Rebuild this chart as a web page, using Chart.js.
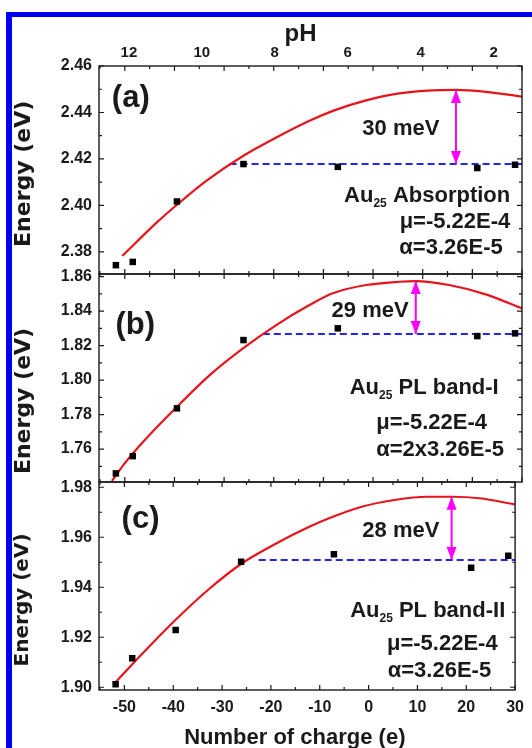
<!DOCTYPE html>
<html>
<head>
<meta charset="utf-8">
<script src="https://cdn.jsdelivr.net/npm/chart.js@4.4.0/dist/chart.umd.min.js"></script>
<style>
html,body{margin:0;padding:0;background:#fff;overflow:hidden;width:532px;height:748px;}
#frame{position:absolute;left:6px;top:12px;width:560px;height:760px;border-left:6px solid #0000f0;border-top:5px solid #0000f0;box-sizing:border-box;}
canvas{position:absolute;left:0;}
</style>
</head>
<body>
<div id="frame"></div>
<canvas id="ca" width="532" height="298" style="top:0px"></canvas>
<canvas id="cb" width="532" height="256" style="top:250px"></canvas>
<canvas id="cc" width="532" height="300" style="top:460px"></canvas>
<script>
// ---------- data ----------
const charge  = [-51.8, -48.4, -39.5, -26.1, -7.1, 21.0, 28.6];
const energyA = [2.3743, 2.3757, 2.4017, 2.4178, 2.4166, 2.4161, 2.4175];
const energyB = [1.7459, 1.7559, 1.7836, 1.8232, 1.8300, 1.8255, 1.8271];
const energyC = [1.9012, 1.9116, 1.9229, 1.9502, 1.9532, 1.9478, 1.9526];

const fitChargeA = [-50.5, -43.6, -39.5, -33.6, -26.1, -19.5, -12.8, -8.1, -1.4, 5.3, 13.3, 16.7, 22.7, 30];
const fitEnergyA = [2.3783, 2.3926, 2.4003, 2.4106, 2.4214, 2.4292, 2.4364, 2.4407, 2.4452, 2.4482, 2.4496, 2.4497, 2.4489, 2.4468];
const fitChargeB = [-52.6, -50.3, -46.3, -39.5, -32.9, -26.2, -19.5, -12.8, -8.1, -1.4, 5.3, 8.6, 15.3, 22.7, 30];
const fitEnergyB = [1.7415, 1.7507, 1.7642, 1.7845, 1.8029, 1.8184, 1.8319, 1.8435, 1.8503, 1.8551, 1.8570, 1.8574, 1.8551, 1.8497, 1.8415];
const fitChargeC = [-52.0, -46.3, -39.5, -32.9, -26.2, -19.5, -12.8, -8.1, -1.4, 5.3, 12.0, 17.0, 22.7, 30];
const fitEnergyC = [1.9016, 1.9135, 1.9270, 1.9389, 1.9492, 1.9569, 1.9636, 1.9676, 1.9722, 1.9749, 1.9762, 1.9762, 1.9756, 1.9731];

const plateauStart = [-28.9, -22.2, -22.5];
const plateauLevel = [2.4178, 1.8267, 1.9509];
const plateauEnd   = 30;
const arrowCharge  = [16.7, 8.6, 17.0];
const arrowTop     = [2.4497, 1.8574, 1.9762];

const xTicks  = [-50, -40, -30, -20, -10, 0, 10, 20, 30];
const phTicks = [12, 10, 8, 6, 4, 2];
const yTicksA = [2.38, 2.40, 2.42, 2.44, 2.46];
const yTicksB = [1.76, 1.78, 1.80, 1.82, 1.84, 1.86];
const yTicksC = [1.90, 1.92, 1.94, 1.96, 1.98];

const xRange  = [-55.2, 30];
const phRange = [1.22, 12.82];
const yRangeA = [2.3705, 2.46];
const yRangeB = [1.7409, 1.8615];
const yRangeC = [1.8989, 1.9821];

// ---------- text annotations (positions in data units) ----------
const notesA = [
  {parts:[{t:'(a)'}], x:-48.8, y:2.4462, size:31},
  {parts:[{t:'30 meV'}], x:5.6, y:2.4329, size:22},
  {parts:[{t:'Au'},{t:'25',sub:true},{t:' Absorption'}], x:10.9, y:2.4043, size:22},
  {parts:[{t:'μ=-5.22E-4'}], x:16.5, y:2.3930, size:22},
  {parts:[{t:'α=3.26E-5'}], x:15.7, y:2.3816, size:22}
];
const notesB = [
  {parts:[{t:'(b)'}], x:-47.9, y:1.8316, size:31},
  {parts:[{t:'29 meV'}], x:-0.6, y:1.8400, size:22},
  {parts:[{t:'Au'},{t:'25',sub:true},{t:' PL band-I'}], x:10.3, y:1.7954, size:22},
  {parts:[{t:'μ=-5.22E-4'}], x:11.8, y:1.7752, size:22},
  {parts:[{t:'α=2x3.26E-5'}], x:13.5, y:1.7597, size:22}
];
const notesC = [
  {parts:[{t:'(c)'}], x:-46.7, y:1.9671, size:31},
  {parts:[{t:'28 meV'}], x:6.6, y:1.9625, size:22},
  {parts:[{t:'Au'},{t:'25',sub:true},{t:' PL band-II'}], x:12.1, y:1.9307, size:22},
  {parts:[{t:'μ=-5.22E-4'}], x:15.1, y:1.9172, size:22},
  {parts:[{t:'α=3.26E-5'}], x:14.5, y:1.9066, size:22}
];

const FAM = '"Liberation Sans", Arial, Helvetica, sans-serif';
const INK = '#1a1a1a';
Chart.defaults.font.family = FAM;
Chart.defaults.font.weight = 'bold';
Chart.defaults.color = INK;

function minorList(major, step, lo, hi) {
  const out = [];
  major.forEach(v => { out.push(v - step / 2); });
  out.push(major[major.length - 1] + step / 2);
  return out.filter(v => v > lo + 1e-9 && v < hi - 1e-9);
}

const frameTicks = {
  id: 'frameTicks',
  afterDatasetsDraw(chart, args, o) {
    const {ctx, chartArea: a, scales} = chart;
    const xs = scales.x, ys = scales.y;
    ctx.save();
    ctx.strokeStyle = INK;
    ctx.lineWidth = 1.4;
    ctx.strokeRect(a.left, a.top, a.right - a.left, a.bottom - a.top);
    ctx.lineWidth = 1.2;
    ctx.beginPath();
    const xm = xTicks.filter(v => v >= xRange[0] && v <= xRange[1]);
    const xmin = minorList(xTicks, 10, xRange[0], xRange[1]);
    const xl = (v, len) => {
      const p = xs.getPixelForValue(v);
      ctx.moveTo(p, a.bottom); ctx.lineTo(p, a.bottom - len);
      ctx.moveTo(p, a.top); ctx.lineTo(p, a.top + len);
    };
    xm.forEach(v => xl(v, 5)); xmin.forEach(v => xl(v, 3));
    const step = o.yTicks[1] - o.yTicks[0];
    const ymin = minorList(o.yTicks, step, ys.min, ys.max);
    const yl = (v, len) => {
      const p = ys.getPixelForValue(v);
      ctx.moveTo(a.left, p); ctx.lineTo(a.left + len, p);
      ctx.moveTo(a.right, p); ctx.lineTo(a.right - len, p);
    };
    o.yTicks.forEach(v => yl(v, 5)); ymin.forEach(v => yl(v, 3));
    ctx.stroke();
    ctx.restore();
  }
};

const arrowHeads = {
  id: 'arrowHeads',
  afterDatasetsDraw(chart) {
    const idx = chart.data.datasets.findIndex(d => d.label === 'arrow');
    if (idx < 0) return;
    const pts = chart.getDatasetMeta(idx).data;
    const ctx = chart.ctx;
    const lo = pts[0], hi = pts[1];
    ctx.save();
    ctx.fillStyle = '#ff00ff';
    const head = (x, y, dir) => {
      ctx.beginPath();
      ctx.moveTo(x, y);
      ctx.lineTo(x - 5, y + dir * 13);
      ctx.lineTo(x + 5, y + dir * 13);
      ctx.closePath();
      ctx.fill();
    };
    head(hi.x, hi.y, 1);
    head(lo.x, lo.y, -1);
    ctx.restore();
  }
};

const notesPlugin = {
  id: 'notes',
  afterDraw(chart, args, o) {
    const {ctx, scales} = chart;
    ctx.save();
    ctx.fillStyle = INK;
    ctx.textBaseline = 'middle';
    ctx.textAlign = 'left';
    o.items.forEach(n => {
      const cx = scales.x.getPixelForValue(n.x);
      const cy = scales.y.getPixelForValue(n.y);
      const fontOf = p => 'bold ' + (p.sub ? Math.round(n.size * 0.55) : n.size) + 'px ' + FAM;
      let total = 0;
      const ws = n.parts.map(p => { ctx.font = fontOf(p); const w = ctx.measureText(p.t).width; total += w; return w; });
      let x = cx - total / 2;
      n.parts.forEach((p, i) => {
        ctx.font = fontOf(p);
        ctx.fillText(p.t, x, p.sub ? cy + n.size * 0.36 : cy);
        x += ws[i];
      });
    });
    ctx.restore();
  }
};

function makePanel(id, c) {
  const scales = {
    x: {
      type: 'linear', position: 'bottom', min: xRange[0], max: xRange[1], display: c.showX,
      afterBuildTicks: s => { s.ticks = xTicks.map(v => ({value: v})); },
      grid: {display: false, drawTicks: false}, border: {display: false},
      ticks: {font: {size: 16, weight: 'bold'}, padding: 8, autoSkip: false, maxRotation: 0, color: INK,
              callback: v => String(v)},
      title: {display: c.showX, text: 'Number of charge (e)    ', color: INK,
              font: {size: 22, weight: 'bold'}, padding: {top: 0, bottom: 9}},
      afterFit: s => { if (c.showX) s.height = 70; }
    },
    y: {
      type: 'linear', position: 'left', min: c.yRange[0], max: c.yRange[1],
      afterBuildTicks: s => { s.ticks = c.yTicks.map(v => ({value: v})); },
      grid: {display: false, drawTicks: false}, border: {display: false},
      ticks: {font: {size: 16, weight: 'bold'}, padding: 7, autoSkip: false, color: INK,
              callback: v => Number(v).toFixed(2)},
      title: {display: true, text: 'Energy (eV)' + c.titlePad, color: INK,
              font: {family: '"DejaVu Sans", sans-serif', size: c.titleSize, weight: 'bold'},
              padding: {top: 11, bottom: 0}},
      afterFit: s => { s.width = 99; }
    }
  };
  if (c.showPH) {
    scales.ph = {
      type: 'linear', axis: 'x', position: 'top', reverse: true, min: phRange[0], max: phRange[1],
      afterBuildTicks: s => { s.ticks = phTicks.map(v => ({value: v})); },
      grid: {display: false, drawTicks: false}, border: {display: false},
      ticks: {font: {size: 15, weight: 'bold'}, padding: 4, autoSkip: false, maxRotation: 0, color: INK,
              callback: v => String(v)},
      title: {display: true, text: 'pH   ', color: INK, font: {size: 24, weight: 'bold'}, padding: {top: 20, bottom: 0}},
      afterFit: s => { s.height = 66; }
    };
  }
  return new Chart(document.getElementById(id), {
    type: 'line',
    data: {
      datasets: [
        {label: 'data', type: 'scatter', data: charge.map((q, i) => ({x: q, y: c.energy[i]})),
         pointStyle: 'rect', pointRadius: 4.6, pointBackgroundColor: '#000', pointBorderWidth: 0, showLine: false},
        {label: 'fit', data: c.fitX.map((q, i) => ({x: q, y: c.fitY[i]})),
         borderColor: '#e8141c', borderWidth: 2.2, pointRadius: 0, cubicInterpolationMode: 'monotone', fill: false},
        {label: 'plateau', data: [{x: c.pStart, y: c.pLevel}, {x: plateauEnd, y: c.pLevel}],
         borderColor: '#2525e8', borderWidth: 2, borderDash: [7, 4], pointRadius: 0, fill: false},
        {label: 'arrow', data: [{x: c.aX, y: c.pLevel}, {x: c.aX, y: c.aTop}],
         borderColor: '#ff00ff', borderWidth: 2, pointRadius: 0, fill: false}
      ]
    },
    options: {
      responsive: false, animation: false, devicePixelRatio: 1,
      layout: {padding: c.pad},
      scales,
      plugins: {legend: {display: false}, tooltip: {enabled: false},
                frameTicks: {yTicks: c.yTicks}, notes: {items: c.notes}}
    },
    plugins: [frameTicks, arrowHeads, notesPlugin]
  });
}

makePanel('ca', {showX: false, showPH: true, yRange: yRangeA, yTicks: yTicksA, energy: energyA,
  fitX: fitChargeA, fitY: fitEnergyA, pStart: plateauStart[0], pLevel: plateauLevel[0], aX: arrowCharge[0], aTop: arrowTop[0],
  notes: notesA, titlePad: ' ', titleSize: 22, pad: {left: 0, right: 10, top: 0, bottom: 24}});
makePanel('cb', {showX: false, showPH: false, yRange: yRangeB, yTicks: yTicksB, energy: energyB,
  fitX: fitChargeB, fitY: fitEnergyB, pStart: plateauStart[1], pLevel: plateauLevel[1], aX: arrowCharge[1], aTop: arrowTop[1],
  notes: notesB, titlePad: '      ', titleSize: 22, pad: {left: 0, right: 10, top: 24, bottom: 24}});
makePanel('cc', {showX: true, showPH: false, yRange: yRangeC, yTicks: yTicksC, energy: energyC,
  fitX: fitChargeC, fitY: fitEnergyC, pStart: plateauStart[2], pLevel: plateauLevel[2], aX: arrowCharge[2], aTop: arrowTop[2],
  notes: notesC, titlePad: '    ', titleSize: 20, pad: {left: 0, right: 10, top: 22, bottom: 0}});
</script>
</body>
</html>
